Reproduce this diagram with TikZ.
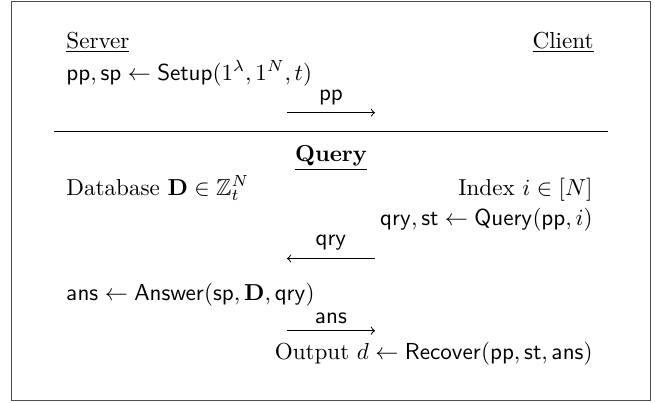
\RequirePackage{fix-cm}
\documentclass[tikz,border=0pt]{standalone}
\usepackage{amsmath,amssymb}
\begin{document}
\begin{tikzpicture}[x={(0.4545pt,0pt)},y={(0pt,-0.4545pt)},
  txt/.style={inner sep=0pt,font=\fontsize{10.5}{12.5}\selectfont},
  msgarrow/.style={-to,line width=0.45pt},
  rulebar/.style={line width=0.6pt},
  framebox/.style={line width=0.7pt,draw=black!70}]
\useasboundingbox (0,0) rectangle (655,402);
\draw[framebox] (11.5,1.5) rectangle (650.5,400.5);
% Setup phase
\node[txt,anchor=base west] (server) at (66,48) {\underline{Server}};
\node[txt,anchor=base east] (client) at (594,48) {\underline{Client}};
\node[txt,anchor=base west] (setup) at (66,80) {$\mathsf{pp},\mathsf{sp}\gets\mathsf{Setup}(1^\lambda,1^N,t)$};
\node[txt,anchor=base] (pplab) at (331,100) {$\mathsf{pp}$};
\coordinate (ppS) at (287,112.7);
\coordinate (ppE) at (375,112.7);
\draw[msgarrow] (ppS) -- (ppE);
\coordinate (ruleL) at (54,131.5);
\coordinate (ruleR) at (608,131.5);
\draw[rulebar] (ruleL) -- (ruleR);
% Query phase
\node[txt,anchor=base] (query) at (331,161.7) {\underline{\textbf{Query}}};
\node[txt,anchor=base west] (db) at (66,195) {Database $\mathbf{D}\in\mathbb{Z}_t^N$};
\node[txt,anchor=base east] (index) at (593,195) {Index $i\in[N]$};
\node[txt,anchor=base east] (qryst) at (593,225) {$\mathsf{qry},\mathsf{st}\gets\mathsf{Query}(\mathsf{pp},i)$};
\node[txt,anchor=base] (qrylab) at (331,245) {$\mathsf{qry}$};
\coordinate (qryS) at (375,258.5);
\coordinate (qryE) at (287,258.5);
\draw[msgarrow] (qryS) -- (qryE);
\node[txt,anchor=base west] (answer) at (66,300) {$\mathsf{ans}\gets\mathsf{Answer}(\mathsf{sp},\mathbf{D},\mathsf{qry})$};
\node[txt,anchor=base] (anslab) at (331,323) {$\mathsf{ans}$};
\coordinate (ansS) at (287,330.7);
\coordinate (ansE) at (375,330.7);
\draw[msgarrow] (ansS) -- (ansE);
\node[txt,anchor=base east] (output) at (593,359.5) {Output $d\gets\mathsf{Recover}(\mathsf{pp},\mathsf{st},\mathsf{ans})$};
\end{tikzpicture}
\end{document}
